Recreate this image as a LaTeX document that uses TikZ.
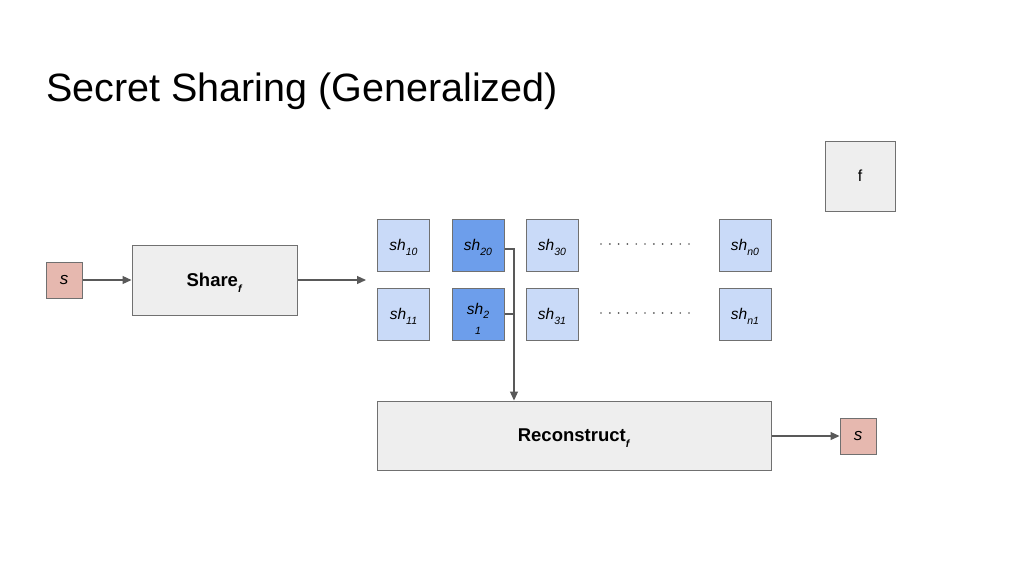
\documentclass[tikz,border=0pt]{standalone}
\usepackage{fontspec}
\setmainfont{Liberation Sans}
\usetikzlibrary{arrows.meta}
\definecolor{lblue}{HTML}{C9DAF8}
\definecolor{dblue}{HTML}{6D9EEB}
\definecolor{pinkf}{HTML}{E6B8AF}
\definecolor{grayf}{HTML}{EEEEEE}
\definecolor{edgec}{HTML}{707070}
\definecolor{linec}{HTML}{595959}
\newcommand{\mysub}[1]{\smash{\raisebox{-0.3em}{\fontsize{10.5}{11}\selectfont #1}}}
\newcommand{\dn}[1]{\raisebox{-3.5pt}{#1}}
\tikzset{
  box/.style={draw=edgec, line width=1pt, inner sep=0pt},
  shbox/.style={box, fill=lblue, minimum width=52pt, minimum height=52pt, font=\fontsize{15.5}{17}\selectfont\itshape},
  shdark/.style={shbox, fill=dblue},
  sbox/.style={box, fill=pinkf, minimum width=36pt, minimum height=36pt, font=\fontsize{17}{18}\selectfont\itshape},
  gbox/.style={box, fill=grayf},
  conn/.style={draw=linec, line width=1.2pt},
  arr/.style={conn, -{Triangle[length=9pt,width=8pt]}},
  dots/.style={draw=linec, line width=1.9pt, line cap=round, dash pattern=on 0pt off 8.8pt}
}
\begin{document}
\begin{tikzpicture}[x=1pt,y=-1pt]
\useasboundingbox (0,0) rectangle (1024,576);
\fill[white] (0,0) rectangle (1024,576);
\node[anchor=base west, inner sep=0pt, font=\fontsize{39.5}{41}\selectfont] (title) at (46,101) {Secret Sharing (Generalized)};

\node[gbox, minimum width=70pt, minimum height=70pt, font=\fontsize{16}{17}\selectfont] (f) at (860,176) {\dn{f}};

\node[sbox] (s1) at (64,280) {\dn{s}};
\node[gbox, minimum width=165pt, minimum height=70pt, font=\fontsize{18.5}{20}\selectfont\bfseries] (share) at (214.5,280) {\dn{Share\mysub{\textit{f}}}};
\coordinate (shout) at (366,280);

\node[shbox] (sh10) at (403.5,245) {\dn{sh\mysub{10}}};
\node[shdark] (sh20) at (478,245) {\dn{sh\mysub{20}}};
\node[shbox] (sh30) at (552,245) {\dn{sh\mysub{30}}};
\node[shbox] (shn0) at (745,245) {\dn{sh\mysub{n0}}};

\node[shbox] (sh11) at (403.5,314) {\dn{sh\mysub{11}}};
\node[shdark] (sh21) at (478,314) {\smash{\begin{tabular}[t]{@{}c@{}}sh\mysub{2}\\[3pt]{\fontsize{10.5}{11}\selectfont 1}\end{tabular}}};
\node[shbox] (sh31) at (552,314) {\dn{sh\mysub{31}}};
\node[shbox] (shn1) at (745,314) {\dn{sh\mysub{n1}}};

\coordinate (d0a) at (601,244); \coordinate (d0b) at (697,244);
\coordinate (d1a) at (601,313); \coordinate (d1b) at (697,313);
\draw[dots] (d0a) -- (d0b);
\draw[dots] (d1a) -- (d1b);

\node[gbox, minimum width=394pt, minimum height=69pt, font=\fontsize{18.5}{20}\selectfont\bfseries] (rec) at (574,435.5) {\dn{Reconstruct\mysub{\textit{f}}}};
\node[sbox] (s2) at (858,436) {\dn{s}};

\draw[arr] (s1) -- (share);
\draw[arr] (share) -- (shout);

\coordinate (j) at (514,314);
\draw[conn] ([yshift=-4pt]sh20.east) -| (j);
\draw[conn] (sh21.east) -- (j);
\draw[arr] (j) -- (j |- rec.north);

\draw[arr] (rec.east |- s2.west) -- (s2.west);
\end{tikzpicture}
\end{document}
